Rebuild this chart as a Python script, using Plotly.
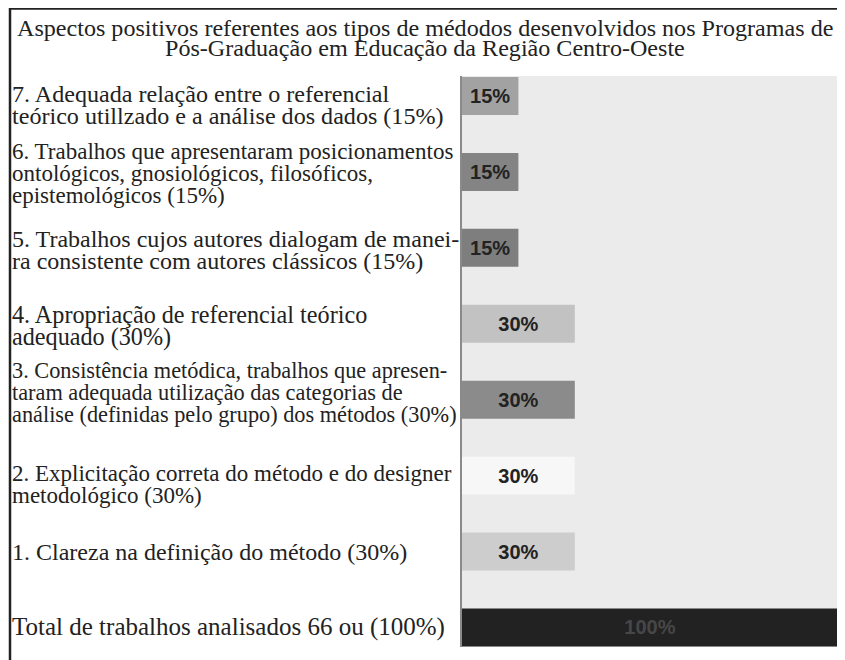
import plotly.graph_objects as go

# ---- data ----
categories = [
    "Total de trabalhos analisados 66 ou (100%)",
    "1. Clareza na definição do método (30%)",
    "2. Explicitação correta do método e do designer<br>metodológico (30%)",
    "3. Consistência metódica, trabalhos que apresen-<br>taram adequada utilização das categorias de<br>análise (definidas pelo grupo) dos métodos (30%)",
    "4. Apropriação de referencial teórico<br>adequado (30%)",
    "5. Trabalhos cujos autores dialogam de manei-<br>ra consistente com autores clássicos (15%)",
    "6. Trabalhos que apresentaram posicionamentos<br>ontológicos, gnosiológicos, filosóficos,<br>epistemológicos (15%)",
    "7. Adequada relação entre o referencial<br>teórico utillzado e a análise dos dados (15%)",
]
values = [100, 30, 30, 30, 30, 15, 15, 15]
bar_labels = ["100%", "30%", "30%", "30%", "30%", "15%", "15%", "15%"]
title_lines = [
    "Aspectos positivos referentes aos tipos de médodos desenvolvidos nos Programas de",
    "Pós-Graduação em Educação da Região Centro-Oeste",
]

# ---- styles ----
bar_colors = ["#222222", "#cdcdcd", "#f7f7f7", "#8b8b8b", "#c2c2c2", "#7e7e7e", "#848484", "#a2a2a2"]
text_colors = ["#474747"] + ["#222222"] * 7
label_font_sizes = [25, 24, 23, 22.3, 24.2, 24, 23, 24.1]
label_offset_down = [0, 0, 9, -7, 2, 2, 2, 9]  # px, visual tweak of label blocks
LINE_PITCH = 22

W, H = 830, 652
ML, MR, MT, MB = 454, 0, 68, 13

ypos = list(range(len(categories)))

fig = go.Figure(go.Bar(
    x=values, y=ypos, orientation="h",
    marker=dict(color=bar_colors, line=dict(width=0)),
    width=0.5,
    text=bar_labels, textposition="inside", insidetextanchor="middle",
    textfont=dict(family="Liberation Sans", size=20, color=text_colors, weight="bold"),
    hoverinfo="skip",
))

annotations = []
serif = "Liberation Serif"
for i, lab in enumerate(categories):
    lines = lab.split("<br>")
    n = len(lines)
    for j, ln in enumerate(lines):
        annotations.append(dict(
            xref="paper", yref="y", x=0, y=ypos[i], xanchor="left", yanchor="middle",
            xshift=-(ML - 2), yshift=-label_offset_down[i] + ((n - 1) / 2 - j) * LINE_PITCH,
            text=ln, showarrow=False, align="left",
            font=dict(family=serif, size=label_font_sizes[i], color="#222222"),
        ))

for j, ln in enumerate(title_lines):
    annotations.append(dict(
        xref="paper", yref="paper", x=0, y=1, xanchor="center", yanchor="middle",
        xshift=416.5 - ML, yshift=(MT - 20) - j * 19.5,
        text=ln, showarrow=False,
        font=dict(family=serif, size=24.1, color="#222222"),
    ))

shapes = [
    # top frame line
    dict(type="line", xref="paper", yref="paper", xsizemode="pixel", ysizemode="pixel",
         xanchor=0, yanchor=1, x0=1 - ML, x1=W - ML + 10, y0=MT - 0.5, y1=MT - 0.5,
         line=dict(color="#222222", width=2.5)),
    # left frame line
    dict(type="line", xref="paper", yref="paper", xsizemode="pixel", ysizemode="pixel",
         xanchor=0, yanchor=1, x0=2 - ML, x1=2 - ML, y0=MT, y1=MT - H - 5,
         line=dict(color="#222222", width=2.5)),
]

fig.update_layout(
    width=W, height=H, autosize=False,
    margin=dict(l=ML, r=MR, t=MT, b=MB, pad=0),
    paper_bgcolor="white", plot_bgcolor="#ebebeb",
    showlegend=False,
    xaxis=dict(range=[0, 100], visible=False, fixedrange=True),
    yaxis=dict(range=[-0.257, 7.263], showticklabels=False, ticks="", showgrid=False,
               zeroline=False, showline=True, linecolor="#8a8a8a", linewidth=2, fixedrange=True),
    annotations=annotations, shapes=shapes,
    bargap=0.5,
)

fig.write_html("out.html")
